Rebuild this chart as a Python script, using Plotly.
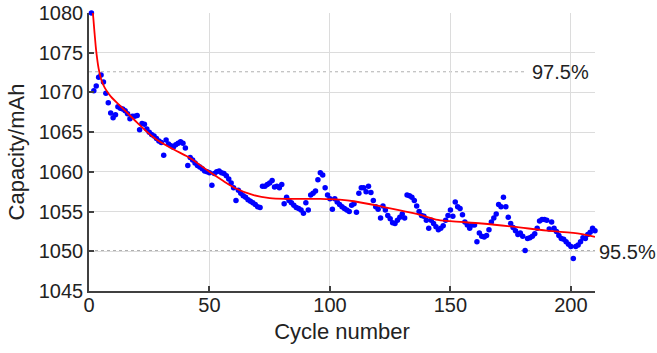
import plotly.graph_objects as go

cycles = list(range(1, 211))
capacity = [
    1080.0, 1070.2, 1070.8, 1071.9, 1072.2, 1071.3, 1069.9, 1068.7, 1067.4, 1066.8,
    1067.2, 1068.2, 1068.0, 1067.9, 1067.7, 1067.3, 1066.7, 1067.0, 1067.0, 1067.1,
    1065.3, 1066.1, 1066.0, 1065.4, 1065.0, 1064.7, 1064.5, 1064.2, 1063.9, 1063.7,
    1062.1, 1064.0, 1063.5, 1063.3, 1063.1, 1063.4, 1063.6, 1063.8, 1063.6, 1063.0,
    1060.8, 1061.8, 1061.5, 1061.1, 1060.8, 1060.6, 1060.4, 1060.1, 1060.0, 1059.9,
    1058.3, 1059.8, 1060.0, 1060.1, 1059.9, 1059.8, 1059.5, 1059.1, 1058.6, 1058.0,
    1056.4, 1057.7, 1057.3, 1057.0, 1056.8, 1056.5, 1056.3, 1056.1, 1055.9, 1055.6,
    1055.5, 1058.2, 1058.2, 1058.4, 1058.6, 1058.9, 1058.1, 1058.2, 1058.0, 1058.4,
    1056.0, 1056.8, 1056.4, 1056.1, 1055.8, 1055.5, 1055.4, 1055.2, 1054.8, 1056.1,
    1055.2, 1057.1, 1057.3, 1057.6, 1059.0, 1059.9, 1059.6, 1058.0, 1057.1, 1056.6,
    1055.3, 1056.6, 1056.2, 1055.9, 1055.6, 1055.4, 1055.2, 1055.0, 1055.8, 1056.0,
    1054.9, 1057.3, 1058.0, 1058.0, 1057.5, 1058.2, 1057.4, 1056.4, 1055.6, 1055.3,
    1054.2, 1055.7, 1055.2, 1054.5, 1054.1, 1053.6, 1053.5, 1053.9, 1054.3, 1054.7,
    1054.2, 1057.1, 1057.0, 1056.8, 1056.4, 1055.7, 1055.0, 1054.5, 1054.4, 1053.9,
    1052.9, 1053.9, 1053.5, 1053.1, 1052.7, 1052.9, 1053.2, 1053.9, 1054.5, 1055.2,
    1054.4, 1056.2, 1055.6, 1055.4, 1054.6, 1053.7, 1053.3, 1052.9, 1053.3, 1053.3,
    1051.2, 1052.3, 1051.9, 1051.8, 1052.0, 1052.7, 1053.7, 1054.2, 1054.7, 1055.9,
    1055.6, 1056.8, 1055.6, 1054.3, 1053.5, 1053.0, 1052.6, 1052.1, 1052.3, 1051.9,
    1050.1, 1051.6, 1051.7, 1051.9, 1052.2, 1052.9, 1053.8, 1054.0, 1054.0, 1053.9,
    1052.8, 1053.7, 1052.9, 1052.5, 1052.0, 1051.6, 1051.5, 1051.2, 1050.9, 1050.6,
    1049.1, 1050.6, 1050.8, 1051.2, 1051.7, 1051.6, 1052.1, 1052.4, 1052.9, 1052.6,
]

fit_cycles = [1, 1.6, 2.3, 3, 4, 5, 6.5, 9, 14, 20, 27, 34, 41, 45, 50, 55, 61, 68, 75,
              82, 90, 96, 104, 110, 122, 136, 144, 150, 163, 176, 190, 204, 210]
fit_capacity = [1081.5, 1080.0, 1077.5, 1075.2, 1073.0, 1071.7, 1070.6, 1069.5, 1068.0, 1066.2,
                1064.3, 1063.0, 1061.9, 1061.1, 1060.0, 1059.0, 1057.9, 1057.1, 1056.7,
                1056.6, 1056.6, 1056.6, 1056.5, 1056.3, 1055.6, 1054.7, 1054.0, 1053.8,
                1053.5, 1053.1, 1052.6, 1052.2, 1051.8]

ref_levels = [1072.6, 1050.1]
ref_labels = ["97.5%", "95.5%"]
ref_line_end = [181, 210]
ref_label_y = [1072.6, 1049.9]

x_ticks = [0, 50, 100, 150, 200]
y_ticks = [1045, 1050, 1055, 1060, 1065, 1070, 1075, 1080]

FONT = "Arial, 'Liberation Sans', sans-serif"
TXT = "#222222"

fig = go.Figure()
fig.add_trace(go.Scatter(
    x=cycles, y=capacity, mode="markers",
    marker=dict(color="#0000ff", size=5.5, line=dict(width=0)),
    cliponaxis=False, showlegend=False,
))
fig.add_trace(go.Scatter(
    x=fit_cycles, y=fit_capacity, mode="lines",
    line=dict(color="#ff0000", width=1.8, shape="spline", smoothing=0.9),
    showlegend=False,
))

for lvl, end in zip(ref_levels, ref_line_end):
    fig.add_shape(type="line", xref="x", yref="y", x0=0, x1=end, y0=lvl, y1=lvl,
                  line=dict(color="#b0b0b0", width=1, dash="dot"), layer="below")

# label positions (paper x fraction of plot width)
label_xpos = [0.871, 1.004]
for lab, lx, ly in zip(ref_labels, label_xpos, ref_label_y):
    fig.add_annotation(x=lx, y=ly, xref="paper", yref="y", text=lab, showarrow=False,
                       xanchor="left", yanchor="middle",
                       font=dict(family=FONT, size=20, color=TXT))

axis_common = dict(
    showgrid=True, gridcolor="#dcdcdc", gridwidth=1,
    showline=True, linecolor="#404040", linewidth=1.5,
    ticks="inside", ticklen=5, tickwidth=1.5, tickcolor="#404040",
    tickfont=dict(family=FONT, size=20, color=TXT),
    zeroline=False,
)

fig.update_xaxes(range=[0, 210], tickvals=x_ticks, ticklabelstandoff=-5,
                 title=dict(text="Cycle number", font=dict(family=FONT, size=22, color=TXT), standoff=9),
                 **axis_common)
fig.update_yaxes(range=[1045, 1080], tickvals=y_ticks,
                 title=dict(text="Capacity/mAh", font=dict(family=FONT, size=22, color=TXT), standoff=8),
                 **axis_common)

fig.update_layout(
    width=657, height=353,
    margin=dict(l=89, r=62, t=13, b=62, autoexpand=False),
    paper_bgcolor="white", plot_bgcolor="white",
    showlegend=False,
)

fig.write_html("out.html")
